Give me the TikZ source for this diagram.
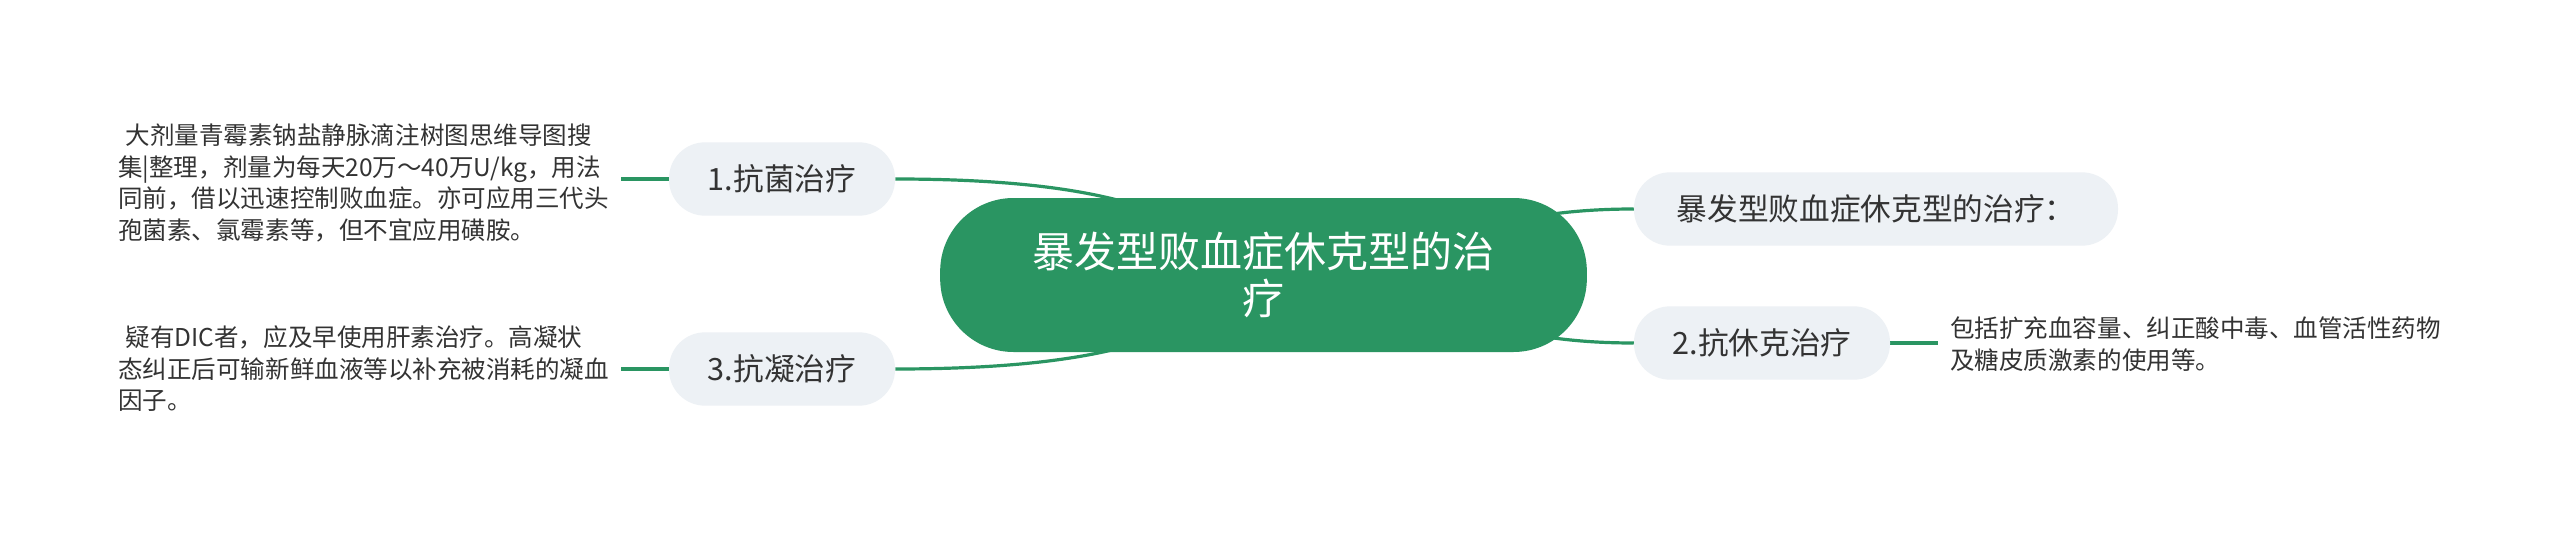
\documentclass[tikz,border=0pt]{standalone}
\usepackage{fontspec}
\setmainfont{Noto Sans CJK SC}
\usetikzlibrary{backgrounds}
\definecolor{mgreen}{HTML}{2A9562}
\definecolor{nodebg}{HTML}{EDF1F5}
\definecolor{txt}{HTML}{333333}
\begin{document}
\begin{tikzpicture}[x=0.75pt,y=-0.75pt,
  conn/.style={draw=mgreen,line width=2.4pt},
  rootbox/.style={fill=mgreen,rounded corners=55pt,minimum width=485pt,minimum height=115.5pt,text=white,font=\fontsize{31.5}{35.5}\selectfont,align=center,inner sep=0pt},
  topicbox/.style={fill=nodebg,rounded corners=27pt,minimum height=55pt,text=txt,font=\fontsize{23}{28}\selectfont,inner sep=0pt},
  notetext/.style={text=txt,font=\fontsize{18.4}{23.6}\selectfont,align=left,inner sep=0pt,anchor=west}]
\useasboundingbox (0,0) rectangle (2560,535);
\node[rootbox] (root) at (1263.5,275) {暴发型败血症休克型的治\\疗};
\node[topicbox,minimum width=169.5pt] (n1) at (782,179) {1.抗菌治疗};
\node[topicbox,minimum width=169.5pt] (n3) at (782,369) {3.抗凝治疗};
\node[topicbox,minimum width=363pt] (nt) at (1876,209) {暴发型败血症休克型的治疗：};
\node[topicbox,minimum width=192pt] (n2) at (1762,343) {2.抗休克治疗};
\node[notetext] (t1) at (118,183) {\hspace*{0.3em}大剂量青霉素钠盐静脉滴注树图思维导图搜\\集|整理，剂量为每天20万～40万U/kg，用法\\同前，借以迅速控制败血症。亦可应用三代头\\孢菌素、氯霉素等，但不宜应用磺胺。};
\node[notetext] (t3) at (118,369) {\hspace*{0.3em}疑有DIC者，应及早使用肝素治疗。高凝状\\态纠正后可输新鲜血液等以补充被消耗的凝血\\因子。};
\node[notetext] (t2) at (1950,344) {包括扩充血容量、纠正酸中毒、血管活性药物\\及糖皮质激素的使用等。};
\begin{scope}[on background layer]
\fill[white] (0,0) rectangle (2560,535);
\draw[conn] (n1.east) .. controls (1150,179) and (1200,230) .. (root.center);
\draw[conn] (n3.east) .. controls (1150,369) and (1200,320) .. (root.center);
\draw[conn] (root.center) .. controls (1420,275) and (1450,209) .. (nt.west);
\draw[conn] (root.center) .. controls (1420,275) and (1450,343) .. (n2.west);
\draw[conn] (n1.west) -- ([xshift=9pt]n1.west -| t1.east);
\draw[conn] (n3.west) -- ([xshift=9pt]n3.west -| t3.east);
\draw[conn] (n2.east) -- ([xshift=-9pt]n2.east -| t2.west);
\end{scope}
\end{tikzpicture}
\end{document}
